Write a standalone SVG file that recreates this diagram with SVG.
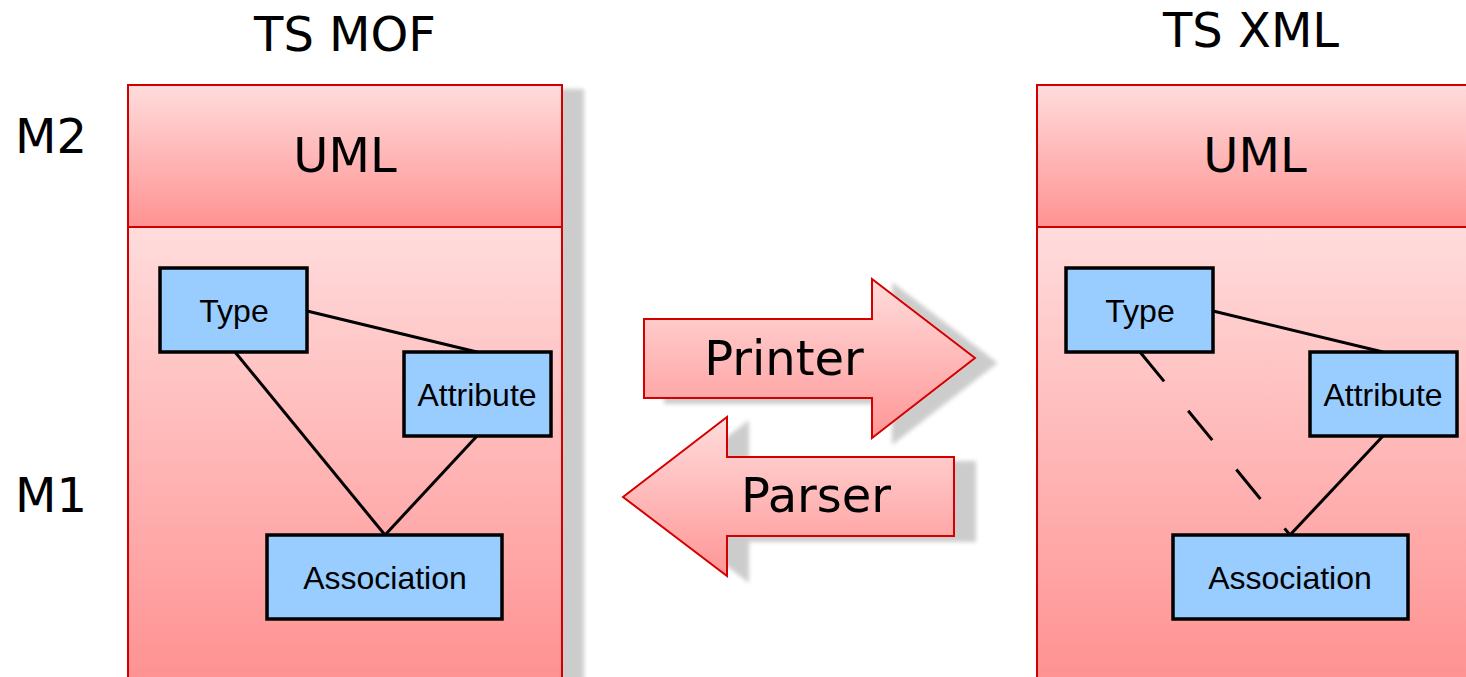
<svg xmlns="http://www.w3.org/2000/svg" width="1466" height="677" viewBox="0 0 1466 677">
<defs>
<linearGradient id="gBand" x1="0" y1="0" x2="0" y2="1">
<stop offset="0" stop-color="#ffdcdc"/><stop offset="1" stop-color="#ff9292"/>
</linearGradient>
<linearGradient id="gLow" gradientUnits="userSpaceOnUse" x1="0" y1="227" x2="0" y2="677">
<stop offset="0" stop-color="#ffdcdc"/><stop offset="1" stop-color="#ff9292"/>
</linearGradient>
<linearGradient id="gArr" x1="0" y1="0" x2="0" y2="1">
<stop offset="0" stop-color="#ffdcdc"/><stop offset="1" stop-color="#ff9696"/>
</linearGradient>
<filter id="sh" x="-10%" y="-10%" width="130%" height="130%">
<feGaussianBlur in="SourceAlpha" stdDeviation="2"/>
<feOffset dx="21" dy="5"/>
<feComponentTransfer><feFuncA type="linear" slope="0.2"/></feComponentTransfer>
<feMerge><feMergeNode/><feMergeNode in="SourceGraphic"/></feMerge>
</filter>
<style>
.panel{stroke:#d00000;stroke-width:2}
.band{fill:url(#gBand)}
.low{fill:url(#gLow)}
.arrow{fill:url(#gArr);stroke:#d40000;stroke-width:2}
.node{fill:#99ccff;stroke:#000;stroke-width:3.5}
.big{font-family:"DejaVu Sans",Verdana,sans-serif;font-size:48px;fill:#000}
.lbl{font-family:"Liberation Sans",Arial,sans-serif;font-size:32px;fill:#000;text-anchor:middle}
.edge{stroke:#000;stroke-width:3;fill:none}
</style>
</defs>
<rect width="1466" height="677" fill="#fff"/>

<g id="titles">
<text class="big" x="345" y="51" text-anchor="middle">TS MOF</text>
<text class="big" x="1251" y="47" text-anchor="middle">TS XML</text>
<text class="big" x="15" y="153">M2</text>
<text class="big" x="15" y="512">M1</text>
</g>

<g id="panel-mof" filter="url(#sh)">
<rect class="panel low" x="128" y="227" width="434" height="470"/>
<rect class="panel band" x="128" y="85" width="434" height="142"/>
<text class="big" x="345" y="172" text-anchor="middle" font-size="47">UML</text>
</g>

<g id="panel-xml">
<rect class="panel low" x="1037" y="227" width="450" height="470"/>
<rect class="panel band" x="1037" y="85" width="450" height="142"/>
<text class="big" x="1255" y="172" text-anchor="middle" font-size="47">UML</text>
</g>

<g id="connectors">
<line class="edge" x1="307" y1="311" x2="477" y2="352"/>
<line class="edge" x1="235" y1="352" x2="385" y2="535"/>
<line class="edge" x1="477" y1="436" x2="385" y2="535"/>
<line class="edge" x1="1213" y1="311" x2="1383" y2="352"/>
<line class="edge" x1="1140" y1="352" x2="1290" y2="535" stroke-dasharray="38 38"/>
<line class="edge" x1="1383" y1="436" x2="1290" y2="535"/>
</g>

<g id="node-type-mof"><rect class="node" x="160" y="268" width="147" height="84"/><text class="lbl" x="234" y="322">Type</text></g>
<g id="node-attribute-mof"><rect class="node" x="404" y="352" width="147" height="84"/><text class="lbl" x="477" y="406">Attribute</text></g>
<g id="node-association-mof"><rect class="node" x="267" y="535" width="235" height="84"/><text class="lbl" x="385" y="589">Association</text></g>

<g id="node-type-xml"><rect class="node" x="1066" y="268" width="147" height="84"/><text class="lbl" x="1140" y="322">Type</text></g>
<g id="node-attribute-xml"><rect class="node" x="1310" y="352" width="147" height="84"/><text class="lbl" x="1383" y="406">Attribute</text></g>
<g id="node-association-xml"><rect class="node" x="1173" y="535" width="235" height="84"/><text class="lbl" x="1290" y="589">Association</text></g>

<g id="printer" filter="url(#sh)">
<path class="arrow" d="M644,319 L872,319 L872,279 L975,358 L872,438 L872,398 L644,398 Z"/>
<text class="big" x="784" y="375" text-anchor="middle" font-size="47">Printer</text>
</g>
<g id="parser" filter="url(#sh)">
<path class="arrow" d="M623,497 L727,417 L727,457 L954,457 L954,536 L727,536 L727,576 Z"/>
<text class="big" x="816" y="512" text-anchor="middle" font-size="47">Parser</text>
</g>
</svg>
